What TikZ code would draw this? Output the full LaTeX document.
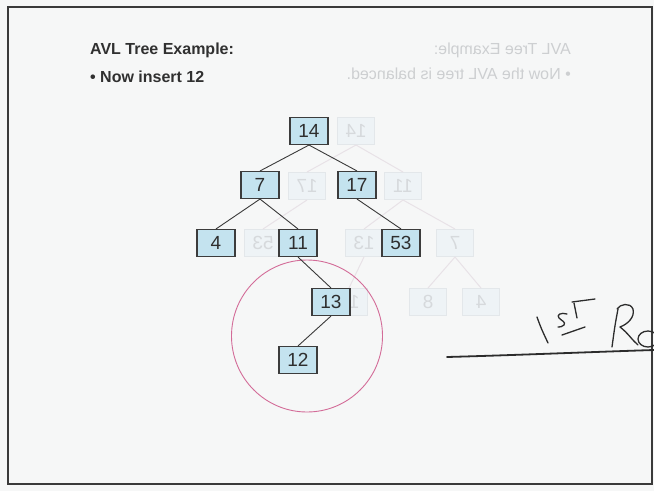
\documentclass[tikz,border=0pt]{standalone}
\usepackage{fontspec}
\setmainfont{Liberation Sans}
\usepackage{graphicx}
\definecolor{paper}{HTML}{F6F7F7}
\definecolor{framecol}{HTML}{3A3A3A}
\definecolor{boxfill}{HTML}{C4E3EF}
\definecolor{boxline}{HTML}{3C3C3C}
\definecolor{digit}{HTML}{2E2E2E}
\definecolor{edgecol}{HTML}{3A3A3A}
\definecolor{titlecol}{HTML}{303030}
\definecolor{ghostfill}{HTML}{EEF3F6}
\definecolor{ghostline}{HTML}{E3E7EA}
\definecolor{ghosttext}{HTML}{D6D9DC}
\definecolor{ghostedge}{HTML}{E8E2E7}
\definecolor{ghostwords}{HTML}{CDCFD1}
\definecolor{ringcol}{HTML}{D36C98}
\definecolor{inkcol}{HTML}{2C2C2C}
\begin{document}
\begin{tikzpicture}[x=1pt,y=-1pt,
  tnode/.style={draw=boxline, fill=boxfill, line width=1.1pt, minimum width=38pt, minimum height=27pt, inner sep=0pt, font=\fontsize{19}{19}\selectfont, text=digit},
  gnode/.style={draw=ghostline, fill=ghostfill, line width=1pt, minimum width=37pt, minimum height=27pt, inner sep=0pt, font=\fontsize{19}{19}\selectfont, text=ghosttext},
  tedge/.style={draw=edgecol, line width=0.9pt},
  gedge/.style={draw=ghostedge, line width=1pt},
  ink/.style={draw=inkcol, line width=1.3pt, line cap=round, line join=round},
  gwords/.style={anchor=base east, font=\fontsize{16}{16}\selectfont, text=ghostwords, inner sep=0pt}]
\useasboundingbox (0,0) rectangle (654,491);
\fill[paper] (0,0) rectangle (654,491);
\draw[framecol, line width=2pt] (8,7) rectangle (652,484);

% ghost (bleed-through from the back of the page)
\node[gwords] (gw1) at (571,54) {\reflectbox{AVL Tree Example:}};
\node[gwords] (gw2) at (571,79) {\reflectbox{\textbullet\ Now the AVL tree is balanced.}};
\node[gnode] (g14) at (356,131) {\reflectbox{14}};
\node[gnode] (g17) at (307,186) {\reflectbox{17}};
\node[gnode] (g11) at (403,186) {\reflectbox{11}};
\node[gnode] (g53) at (263,243) {\reflectbox{53}};
\node[gnode] (g13) at (364,243) {\reflectbox{13}};
\node[gnode] (g7)  at (455,243) {\reflectbox{7}};
\node[gnode] (g12) at (349,302) {\reflectbox{12}};
\node[gnode] (g8)  at (428,302) {\reflectbox{8}};
\node[gnode] (g4)  at (481,302) {\reflectbox{4}};
\draw[gedge] (g14.south) -- (g17.north);
\draw[gedge] (g14.south) -- (g11.north);
\draw[gedge] (g17.south) -- (g53.north);
\draw[gedge] (g11.south) -- (g13.north);
\draw[gedge] (g11.south) -- (g7.north);
\draw[gedge] (g13.south) -- (g12.north);
\draw[gedge] (g7.south) -- (g8.north);
\draw[gedge] (g7.south) -- (g4.north);

% title
\node[anchor=base west, inner sep=0pt, font=\bfseries\fontsize{16}{16}\selectfont, text=titlecol] (title) at (90,54) {AVL Tree Example:};
\node[anchor=base west, inner sep=0pt, font=\bfseries\fontsize{16}{16}\selectfont, text=titlecol] (bullet) at (90,82) {\textbullet\ Now insert 12};

% circle around the inserted part
\draw[ringcol, line width=0.9pt] (307,336) ellipse [x radius=75.5, y radius=76];

% tree
\node[tnode] (n14) at (309,131) {14};
\node[tnode] (n7)  at (260,185) {7};
\node[tnode] (n17) at (357,185) {17};
\node[tnode] (n4)  at (216,243) {4};
\node[tnode] (n11) at (298,243) {11};
\node[tnode] (n53) at (401,243) {53};
\node[tnode] (n13) at (331,302) {13};
\node[tnode] (n12) at (298,360) {12};
\draw[tedge] (n14.south) -- (n7.north);
\draw[tedge] (n14.south) -- (n17.north);
\draw[tedge] (n7.south) -- (n4.north);
\draw[tedge] (n7.south) -- (n11.north);
\draw[tedge] (n17.south) -- (n53.north);
\draw[tedge] (n11.south) -- (n13.north);
\draw[tedge] (n13.south) -- (n12.north);

% handwriting "1st Ro" with underline
\begin{scope}
\clip (0,0) rectangle (654,491);
% 1
\draw[ink] (537,317) .. controls (541,328) .. (548,343);
% s
\draw[ink] (567,314) .. controls (561,312) and (556,315) .. (559,318) .. controls (562,321) and (566,322) .. (564,325) .. controls (562,327) and (560,327) .. (558,327);
% t
\draw[ink] (574,303) .. controls (575,310) .. (577,318);
\draw[ink] (572,302) -- (595,299);
% underline of "st"
\draw[ink] (562,335) -- (585,327);
% R
\draw[ink] (618,309) .. controls (615,325) .. (612,347);
\draw[ink] (617,309) .. controls (620,304) and (630,302) .. (633,309) .. controls (635,317) and (628,324) .. (620,327) .. controls (628,333) and (632,340) .. (638,345);
% o (cut by the page edge)
\draw[ink] (648,339) ellipse [x radius=10, y radius=8];
% long underline
\draw[ink, line width=1.8pt] (447,357) .. controls (520,355) and (590,352) .. (654,350);
\end{scope}
\end{tikzpicture}
\end{document}
